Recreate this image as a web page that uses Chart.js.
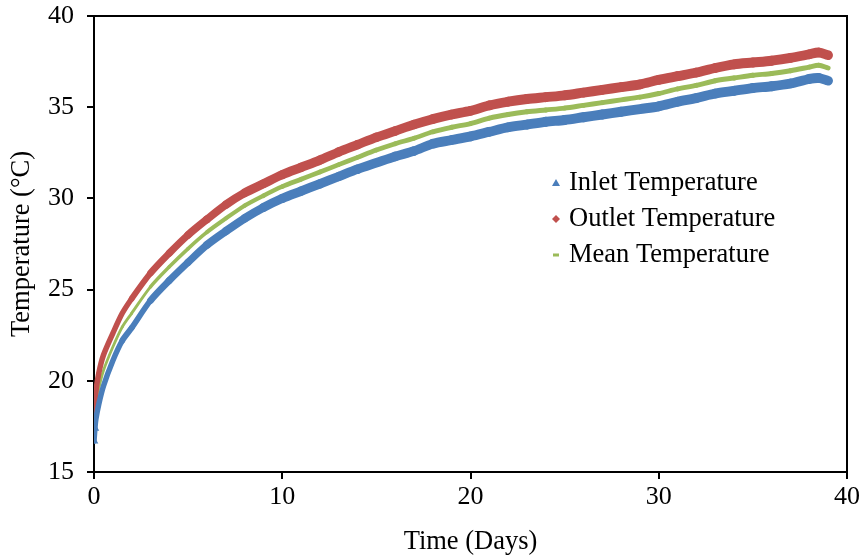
<!DOCTYPE html>
<html>
<head>
<meta charset="utf-8">
<script src="https://cdn.jsdelivr.net/npm/chart.js@4/dist/chart.umd.min.js"></script>
<style>
  html, body { margin: 0; padding: 0; background: #ffffff; }
  #wrap { width: 864px; height: 558px; }
</style>
</head>
<body>
<div id="wrap"><canvas id="c" width="864" height="558"></canvas></div>
<script>
// ---- data ----
const days = [0, 0.05, 0.1, 0.25, 0.5, 1, 1.5, 2, 3, 4, 5, 6, 7, 8, 9, 10, 11, 12, 13, 14, 15, 16, 17, 18, 19, 20,
              21, 22, 23, 24, 25, 26, 27, 28, 29, 30, 31, 32, 33, 34, 35, 36, 37, 38, 38.5, 39];
const inletTemp = [16.7, 17.4, 17.9, 18.7, 19.7, 21.1, 22.2, 22.9, 24.4, 25.5, 26.5, 27.45, 28.2, 28.9, 29.5, 30.0,
                   30.4, 30.8, 31.2, 31.6, 31.95, 32.3, 32.6, 33.0, 33.2, 33.4, 33.65, 33.9, 34.05, 34.2, 34.3,
                   34.45, 34.6, 34.75, 34.9, 35.05, 35.3, 35.5, 35.75, 35.9, 36.05, 36.15, 36.3, 36.55, 36.6, 36.45];
const outletTemp = [17.7, 18.6, 19.4, 20.4, 21.4, 22.6, 23.7, 24.5, 25.9, 27.0, 28.0, 28.85, 29.65, 30.3, 30.8, 31.3,
                    31.7, 32.1, 32.55, 32.95, 33.35, 33.7, 34.05, 34.35, 34.6, 34.8, 35.1, 35.3, 35.45, 35.55, 35.65,
                    35.8, 35.95, 36.1, 36.25, 36.5, 36.7, 36.9, 37.15, 37.35, 37.45, 37.55, 37.7, 37.9, 38.0, 37.85];
const meanTemp = [17.2, 18.0, 18.65, 19.55, 20.55, 21.85, 22.95, 23.7, 25.15, 26.25, 27.25, 28.15, 28.9, 29.6, 30.15, 30.65,
                  31.05, 31.45, 31.85, 32.25, 32.65, 33.0, 33.3, 33.65, 33.9, 34.1, 34.4, 34.6, 34.75, 34.85, 34.95,
                  35.1, 35.25, 35.4, 35.55, 35.75, 36.0, 36.2, 36.45, 36.6, 36.75, 36.85, 37.0, 37.2, 37.3, 37.15];
const seriesNames = ['Inlet Temperature', 'Outlet Temperature', 'Mean Temperature'];
const xTicks = [0, 10, 20, 30, 40];
const yTicks = [15, 20, 25, 30, 35, 40];
const xTitle = 'Time (Days)';
const yTitle = 'Temperature (°C)';

const colors = ['#4A7EBB', '#C0504D', '#9BBB59'];
const FONT = "'Liberation Serif', 'Times New Roman', serif";

function toXY(vals) { return vals.map((v, i) => ({ x: days[i], y: v })); }

// band of markers: keep roughly constant vertical thickness on steep parts
function bandWidth(base) {
  return (ctx) => {
    const dx = ctx.p1.x - ctx.p0.x, dy = ctx.p1.y - ctx.p0.y;
    const len = Math.hypot(dx, dy) || 1;
    const cos = Math.abs(dx) / len;
    return base * Math.max(cos, 0.55);
  };
}

const borderPlugin = {
  id: 'frame',
  afterDraw(chart) {
    const { ctx, chartArea: a } = chart;
    ctx.save();
    ctx.strokeStyle = '#000';
    ctx.lineWidth = 2;
    ctx.beginPath();
    ctx.moveTo(a.left, a.top);
    ctx.lineTo(a.right, a.top);
    ctx.lineTo(a.right, a.bottom);
    ctx.stroke();
    ctx.restore();
  }
};

const legendPlugin = {
  id: 'customLegend',
  afterDraw(chart) {
    const { ctx } = chart;
    const mx = 556, tx = 569, y0 = 183, dy = 36;
    ctx.save();
    ctx.font = '26.5px ' + FONT;
    ctx.textBaseline = 'middle';
    ctx.fillStyle = '#000';
    seriesNames.forEach((name, i) => {
      const y = y0 + i * dy;
      ctx.fillStyle = colors[i];
      ctx.beginPath();
      if (i === 0) {
        ctx.moveTo(mx, y - 4); ctx.lineTo(mx + 4, y + 3); ctx.lineTo(mx - 4, y + 3); ctx.closePath();
      } else if (i === 1) {
        ctx.moveTo(mx, y - 4); ctx.lineTo(mx + 4, y); ctx.lineTo(mx, y + 4); ctx.lineTo(mx - 4, y); ctx.closePath();
      } else {
        ctx.rect(mx - 3, y - 1.5, 6, 3);
      }
      ctx.fill();
      ctx.fillStyle = '#000';
      ctx.fillText(name, tx, y);
    });
    ctx.restore();
  }
};

const datasets = [
  { label: seriesNames[0], data: toXY(inletTemp), borderColor: colors[0], backgroundColor: colors[0], borderWidth: 10,
    segment: { borderWidth: bandWidth(10) },
    pointStyle: 'triangle', pointRadius: (c) => c.dataIndex < 2 ? 5 : 0 },
  { label: seriesNames[1], data: toXY(outletTemp), borderColor: colors[1], backgroundColor: colors[1], borderWidth: 10,
    segment: { borderWidth: bandWidth(10) },
    pointStyle: 'rectRot', pointRadius: (c) => c.dataIndex < 2 ? 4 : 0 },
  { label: seriesNames[2], data: toXY(meanTemp), borderColor: colors[2], backgroundColor: colors[2], borderWidth: 5,
    segment: { borderWidth: bandWidth(5) },
    pointStyle: 'rect', pointRadius: (c) => c.dataIndex < 1 ? 3 : 0 }
];
datasets.forEach(d => {
  d.showLine = true; d.fill = false; d.tension = 0.3;
  d.borderCapStyle = 'round'; d.borderJoinStyle = 'round';
  d.pointBorderWidth = 0; d.pointHoverRadius = 0;
});

new Chart(document.getElementById('c'), {
  type: 'scatter',
  data: { datasets },
  plugins: [borderPlugin, legendPlugin],
  options: {
    responsive: false,
    animation: false,
    devicePixelRatio: 1,
    layout: { padding: { top: 16, right: 17, left: 0, bottom: 0 } },
    plugins: { legend: { display: false }, tooltip: { enabled: false } },
    scales: {
      x: {
        type: 'linear', min: 0, max: 40,
        afterFit(s) { s.height = 86; s.paddingLeft = 0; s.paddingRight = 0; },
        afterBuildTicks(s) { s.ticks = xTicks.map(v => ({ value: v })); },
        border: { display: true, color: '#000', width: 2 },
        grid: { drawOnChartArea: false, drawTicks: true, tickLength: 7, color: '#000', lineWidth: 2 },
        ticks: { color: '#000', font: { family: FONT, size: 26 }, padding: 3, maxRotation: 0 },
        title: { display: true, text: xTitle, color: '#000', font: { family: FONT, size: 26.5 }, padding: { top: 0, bottom: 0 } }
      },
      y: {
        type: 'linear', min: 15, max: 40,
        afterFit(s) { s.width = 94; s.paddingTop = 0; s.paddingBottom = 0; },
        afterBuildTicks(s) { s.ticks = yTicks.map(v => ({ value: v })); },
        border: { display: true, color: '#000', width: 2 },
        grid: { drawOnChartArea: false, drawTicks: true, tickLength: 7, color: '#000', lineWidth: 2 },
        ticks: { color: '#000', font: { family: FONT, size: 26 }, padding: 13 },
        title: { display: true, text: yTitle, color: '#000', font: { family: FONT, size: 26.5 }, padding: { top: 6, bottom: 0 } }
      }
    }
  }
});
</script>
</body>
</html>
